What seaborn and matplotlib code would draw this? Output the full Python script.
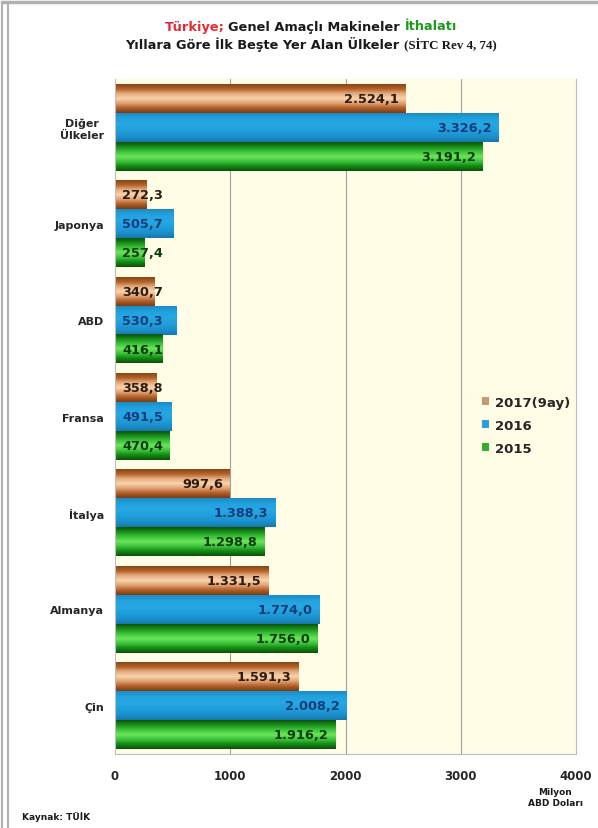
import numpy as np
import pandas as pd
import matplotlib
matplotlib.use("Agg")
import matplotlib.pyplot as plt
import seaborn as sns
from matplotlib.colors import LinearSegmentedColormap
from matplotlib.patches import Patch
from matplotlib.lines import Line2D

# ---- data ----
countries = ["Diğer\nÜlkeler", "Japonya", "ABD", "Fransa", "İtalya", "Almanya", "Çin"]
years = ["2017(9ay)", "2016", "2015"]
v2017 = [2524.1, 272.3, 340.7, 358.8, 997.6, 1331.5, 1591.3]
v2016 = [3326.2, 505.7, 530.3, 491.5, 1388.3, 1774.0, 2008.2]
v2015 = [3191.2, 257.4, 416.1, 470.4, 1298.8, 1756.0, 1916.2]
x_ticks = [0, 1000, 2000, 3000, 4000]

rows = []
for yr, vals in zip(years, [v2017, v2016, v2015]):
    for c, v in zip(countries, vals):
        rows.append({"Ülke": c, "Yıl": yr, "Değer": v})
df = pd.DataFrame(rows)

sns.set_style("white")
plt.rcParams['font.family'] = ['DejaVu Sans']

W, H = 598, 829
fig = plt.figure(figsize=(W / 100, H / 100), dpi=100)
fig.patch.set_facecolor("white")
ax = fig.add_axes([115 / W, 1 - 755 / H, (576 - 115) / W, (755 - 80) / H])
ax.set_facecolor("#FFFDE6")

mid_cols = ["#C8804A", "#1E9BD7", "#2DB02D"]
sns.barplot(data=df, y="Ülke", x="Değer", hue="Yıl", hue_order=years,
            order=countries, palette=mid_cols, orient="h", width=0.9,
            ax=ax, legend=False, saturation=1)

cmaps = [
    LinearSegmentedColormap.from_list("br", ["#8A4416", "#B4642C", "#E7AE80", "#F8D4AE", "#E2A070", "#B0602A", "#7A3C12"]),
    LinearSegmentedColormap.from_list("bl", ["#1C8CC6", "#22A2DE", "#26A8E4", "#20A0DC", "#1C92CE", "#1679AE"]),
    LinearSegmentedColormap.from_list("gr", ["#0A540A", "#1B901B", "#3CC43C", "#6EE45A", "#3CC43C", "#148A14", "#0A520A"]),
]
txt_cols = ["#2B1A0E", "#123C78", "#0B3B0B"]
grad = np.linspace(0, 1, 64).reshape(-1, 1)


def tr(v):
    s = f"{v:,.1f}"
    return s.replace(",", "X").replace(".", ",").replace("X", ".")


for cont, cmap, tc in zip(ax.containers, cmaps, txt_cols):
    for bar in cont:
        x0, w = bar.get_x(), bar.get_width()
        y0, h = bar.get_y(), bar.get_height()
        ax.imshow(grad, cmap=cmap, extent=(x0, x0 + w, y0 + h, y0),
                  aspect="auto", origin="upper", zorder=2, interpolation="bilinear")
        bar.set_facecolor("none")
        bar.set_edgecolor("none")
        yc = y0 + h / 2
        if w < 560:
            ax.annotate(tr(w), xy=(0, yc), xytext=(5, 0), textcoords="offset points",
                        ha="left", va="center", fontsize=9.3, fontweight="bold",
                        color=tc, zorder=5)
        else:
            ax.annotate(tr(w), xy=(w, yc), xytext=(-5, 0), textcoords="offset points",
                        ha="right", va="center", fontsize=9.3, fontweight="bold",
                        color=tc, zorder=5)

ax.set_xlim(0, 4000)
ax.set_ylim(len(countries) - 0.5, -0.5)
ax.set_xticks(x_ticks)
ax.set_xticklabels([str(t) for t in x_ticks], fontsize=8.5, fontweight="bold")
ax.tick_params(axis="x", length=3, color="#999999", pad=8)
ax.tick_params(axis="y", length=0, pad=8)
for lbl in ax.get_yticklabels():
    lbl.set_fontweight("bold")
    lbl.set_fontsize(8)
    lbl.set_multialignment("center")
ax.set_xlabel("")
ax.set_ylabel("")
for x in x_ticks[1:-1]:
    ax.axvline(x, color="#A0A0A0", lw=0.8, zorder=1)
for side in ["left", "bottom", "right"]:
    ax.spines[side].set_color("#BDBDBD")
    ax.spines[side].set_linewidth(0.8)
ax.spines["top"].set_visible(False)

# legend
handles = [Patch(facecolor=c, edgecolor="none") for c in ["#C89A74", "#2A9FD8", "#30B030"]]
ax.legend(handles, years, loc="center left", bbox_to_anchor=(0.77, 0.487),
          frameon=False, handlelength=0.55, handleheight=0.55, handletextpad=0.45,
          labelspacing=0.75, prop={"weight": "bold", "size": 9.5})

# title (multi-coloured, centered)
renderer = fig.canvas.get_renderer()


def colored_line(pieces, xc, y, size):
    arts = []
    for text, col, fam in pieces:
        t = fig.text(0, y, text, color=col, fontsize=size, fontweight="bold",
                     family=fam, ha="left", va="center")
        arts.append(t)
    widths = [a.get_window_extent(renderer).width for a in arts]
    total = sum(widths)
    x = xc * W - total / 2
    for a, wd in zip(arts, widths):
        a.set_x(x / W)
        x += wd


colored_line([("Türkiye; ", "#E52A36", "DejaVu Sans"),
              ("Genel Amaçlı Makineler ", "#1A1A1A", "DejaVu Sans"),
              ("İthalatı", "#1E9A1E", "DejaVu Sans")], 311 / W, 1 - 27 / H, 9.3)
colored_line([("Yıllara Göre İlk Beşte Yer Alan Ülkeler ", "#1A1A1A", "DejaVu Sans"),
              ("(SİTC Rev 4, 74)", "#1A1A1A", "Liberation Serif")], 311 / W, 1 - 45 / H, 9.3)

fig.text(555 / W, 1 - 798 / H, "Milyon\nABD Doları", fontsize=6.5, fontweight="bold",
         ha="center", va="center", multialignment="center", color="#1A1A1A")
fig.text(22 / W, 1 - 817 / H, "Kaynak: TÜİK", fontsize=6.5, fontweight="bold",
         ha="left", va="center", color="#1A1A1A")

# outer frame lines
for xp in [2, 8]:
    fig.add_artist(Line2D([xp / W, xp / W], [0, 1 - 3 / H], color="#B0B0B0", lw=1.5))
fig.add_artist(Line2D([2 / W, 1], [1 - 3 / H, 1 - 3 / H], color="#B0B0B0", lw=2.5))

fig.savefig("out.png", dpi=100)
